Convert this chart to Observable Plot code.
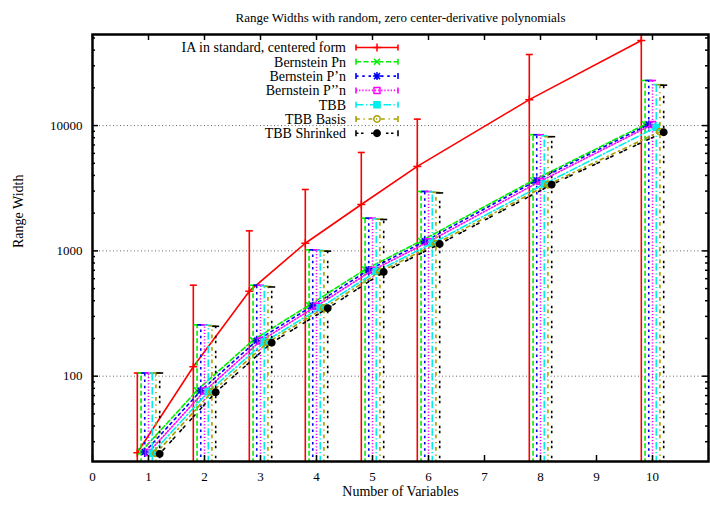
<!DOCTYPE html>
<html><head><meta charset="utf-8">
<script src="https://cdn.jsdelivr.net/npm/d3@7"></script>
<script src="https://cdn.jsdelivr.net/npm/@observablehq/plot@0.6"></script>
<style>
body{margin:0;background:#fff;}
#chart{position:relative;width:710px;height:505px;}
#legend{position:absolute;left:0;top:0;}
</style></head><body><div id="chart"></div>
<script>
// ---- data ----
const xValues = [1, 2, 3, 4, 5, 6, 8, 10];
const seriesNames = ["IA in standard, centered form", "Bernstein Pn", "Bernstein P\u2019n", "Bernstein P\u2019\u2019n", "TBB", "TBB Basis", "TBB Shrinked"];
const xShift = [-0.2, -0.133, -0.067, 0, 0.067, 0.133, 0.2];

const iaValues = [24.5, 119, 477, 1150, 2345, 4720, 16100, 47800];
const iaUpper  = [106, 532, 1445, 3090, 6100, 11250, 36900, 130000];
const iaLower  = [20, 20, 20, 20, 20, 20, 20, 20];

const pnValues = [25, 77, 194, 368, 710, 1200, 3650, 10200];
const pnUpper  = [106, 257, 532, 1020, 1824, 2980, 8450, 22900];
const pnLower  = [20, 20, 20, 20, 20, 20, 20, 20];

const p1Values = [24.8, 76.5, 192, 365, 705, 1190, 3650, 10200];
const p1Upper  = [106, 257, 532, 1020, 1824, 2980, 8450, 22900];
const p1Lower  = [20, 20, 20, 20, 20, 20, 20, 20];

const p2Values = [24.6, 76, 191, 362, 700, 1180, 3600, 10200];
const p2Upper  = [106, 257, 532, 1020, 1824, 2980, 8450, 22900];
const p2Lower  = [20, 20, 20, 20, 20, 20, 20, 20];

const tbbValues = [24.3, 75, 187, 352, 685, 1150, 3420, 9700];
const tbbUpper  = [106, 255, 525, 1010, 1800, 2950, 8300, 21200];
const tbbLower  = [20, 20, 20, 20, 20, 20, 20, 20];

const basisValues = [24.2, 75, 186, 350, 680, 1140, 3380, 8950];
const basisUpper  = [106, 252, 520, 1000, 1790, 2930, 8150, 21200];
const basisLower  = [20, 20, 20, 20, 20, 20, 20, 20];

const shrinkValues = [24, 74.5, 185, 348, 678, 1135, 3380, 8850];
const shrinkUpper  = [106, 250, 515, 995, 1780, 2900, 8150, 21000];
const shrinkLower  = [20, 20, 20, 20, 20, 20, 20, 20];

const xTicks = [0, 1, 2, 3, 4, 5, 6, 7, 8, 9, 10];
const yTicks = [100, 1000, 10000];
const yMinorTicks = [30, 40, 50, 60, 70, 80, 90, 200, 300, 400, 500, 600, 700, 800, 900,
  2000, 3000, 4000, 5000, 6000, 7000, 8000, 9000, 20000, 30000, 40000, 50000];

// ---- styles ----
const colors = ["#ff0000", "#00ee00", "#0000ff", "#ff00ff", "#00eeee", "#a8a000", "#000000"];
const dashes = [null, "5,2.5", "2.5,3.75", "1.25,1.9", "7.5,2.5,1.25,2.5", "3.75,3.75,1.25,3.75", "2.5,2.5,2.5,7.5"];

const symPlus = {draw(c){c.moveTo(-4,0);c.lineTo(4,0);c.moveTo(0,-4);c.lineTo(0,4);}};
const symCross = {draw(c){c.moveTo(-3,-3);c.lineTo(3,3);c.moveTo(-3,3);c.lineTo(3,-3);}};
const symStar = {draw(c){c.moveTo(-4,0);c.lineTo(4,0);c.moveTo(0,-4);c.lineTo(0,4);c.moveTo(-3,-3);c.lineTo(3,3);c.moveTo(-3,3);c.lineTo(3,-3);}};
const symSquare = {draw(c){c.rect(-3,-3,6,6);}};
const symCircle = {draw(c){c.moveTo(3.2,0);c.arc(0,0,3.2,0,2*Math.PI);}};
const symCap = {draw(c){c.moveTo(-3.5,0);c.lineTo(3.5,0);}};
const symCapV = {draw(c){c.moveTo(0,-3);c.lineTo(0,3);}};
const markers = [symPlus, symCross, symStar, symSquare, symSquare, symCircle, symCircle];
const markerFill = ["none", "none", "none", "none", "color", "none", "color"];

const allValues = [iaValues, pnValues, p1Values, p2Values, tbbValues, basisValues, shrinkValues];
const allUpper = [iaUpper, pnUpper, p1Upper, p2Upper, tbbUpper, basisUpper, shrinkUpper];
const allLower = [iaLower, pnLower, p1Lower, p2Lower, tbbLower, basisLower, shrinkLower];

const W = 710, H = 505, mL = 92, mR = 2, mT = 34, mB = 44;
const pw = W - mL - mR, ph = H - mT - mB;

const marks = [];
marks.push(Plot.ruleY(yTicks, {y: d => d, stroke: "#666", strokeDasharray: "1,2.5", strokeWidth: 1}));

seriesNames.forEach((name, s) => {
  const rows = xValues.map((x, i) => ({x: x + xShift[s], v: allValues[s][i], hi: allUpper[s][i], lo: allLower[s][i]}));
  const st = {stroke: colors[s], strokeWidth: 1.6, clip: true};
  const dashed = dashes[s] ? {...st, strokeDasharray: dashes[s]} : st;
  marks.push(Plot.ruleX(rows, {x: "x", y1: "lo", y2: "hi", ...dashed}));
  marks.push(Plot.dot(rows, {x: "x", y: "hi", symbol: symCap, fill: "none", ...st}));
  marks.push(Plot.line(rows, {x: "x", y: "v", ...dashed}));
  marks.push(Plot.dot(rows, {x: "x", y: "v", symbol: markers[s], fill: markerFill[s] === "color" ? colors[s] : "none", stroke: colors[s], strokeWidth: 1.5, clip: true}));
});

// ticks (inward, mirrored)
marks.push(Plot.ruleX(xTicks, {x: d => d, insetTop: ph - 6, stroke: "#000", strokeWidth: 1.5}));
marks.push(Plot.ruleX(xTicks, {x: d => d, insetBottom: ph - 6, stroke: "#000", strokeWidth: 1.5}));
marks.push(Plot.ruleY(yTicks, {y: d => d, insetRight: pw - 6, stroke: "#000", strokeWidth: 1.5}));
marks.push(Plot.ruleY(yTicks, {y: d => d, insetLeft: pw - 6, stroke: "#000", strokeWidth: 1.5}));
marks.push(Plot.ruleY(yMinorTicks, {y: d => d, insetRight: pw - 3, stroke: "#000", strokeWidth: 1.5}));
marks.push(Plot.ruleY(yMinorTicks, {y: d => d, insetLeft: pw - 3, stroke: "#000", strokeWidth: 1.5}));
marks.push(Plot.frame({stroke: "#000", strokeWidth: 2.5}));
marks.push(Plot.axisX({ticks: xTicks, tickSize: 0, tickPadding: 10, tickFormat: d => String(d), label: null, fontSize: 13}));
marks.push(Plot.axisY({ticks: yTicks, tickSize: 0, tickPadding: 10, tickFormat: d => String(d), label: null, fontSize: 13}));
marks.push(Plot.text(["Range Widths with random, zero center-derivative polynomials"], {text: d => d, frameAnchor: "top", dy: -22, fontSize: 13}));
marks.push(Plot.text(["Number of Variables"], {text: d => d, frameAnchor: "bottom", dy: 34, fontSize: 14}));
marks.push(Plot.text(["Range Width"], {text: d => d, frameAnchor: "left", dx: -74, rotate: -90, fontSize: 14}));

const chart = Plot.plot({
  width: W, height: H,
  marginLeft: mL, marginRight: mR, marginTop: mT, marginBottom: mB,
  style: {fontFamily: "'Liberation Serif', 'DejaVu Serif', serif", fontSize: "13px", color: "#000", background: "#fff"},
  x: {domain: [0, 11], axis: null},
  y: {type: "log", domain: [20.85, 53300], axis: null},
  marks
});
document.getElementById("chart").appendChild(chart);

// ---- legend (inside the frame, top-left) ----
const lg = d3.select("#chart").append("svg").attr("id", "legend").attr("width", W).attr("height", 160)
  .style("font-family", "'Liberation Serif', serif").style("font-size", "14px");
seriesNames.forEach((name, s) => {
  const y = 47.5 + s * 14.3;
  const g = lg.append("g");
  g.append("text").attr("x", 346).attr("y", y).attr("dy", "0.35em").attr("text-anchor", "end").text(name);
  const ln = g.append("line").attr("x1", 356).attr("x2", 398).attr("y1", y).attr("y2", y)
    .attr("stroke", colors[s]).attr("stroke-width", 1.6);
  if (dashes[s]) ln.attr("stroke-dasharray", dashes[s]);
  [356, 398].forEach(x => g.append("path").attr("d", d3.symbol(symCapV)()).attr("transform", `translate(${x},${y})`)
    .attr("stroke", colors[s]).attr("stroke-width", 1.6).attr("fill", "none"));
  g.append("path").attr("d", d3.symbol(markers[s])()).attr("transform", `translate(377,${y})`)
    .attr("stroke", colors[s]).attr("stroke-width", 1.5)
    .attr("fill", markerFill[s] === "color" ? colors[s] : "none");
});
</script></body></html>
